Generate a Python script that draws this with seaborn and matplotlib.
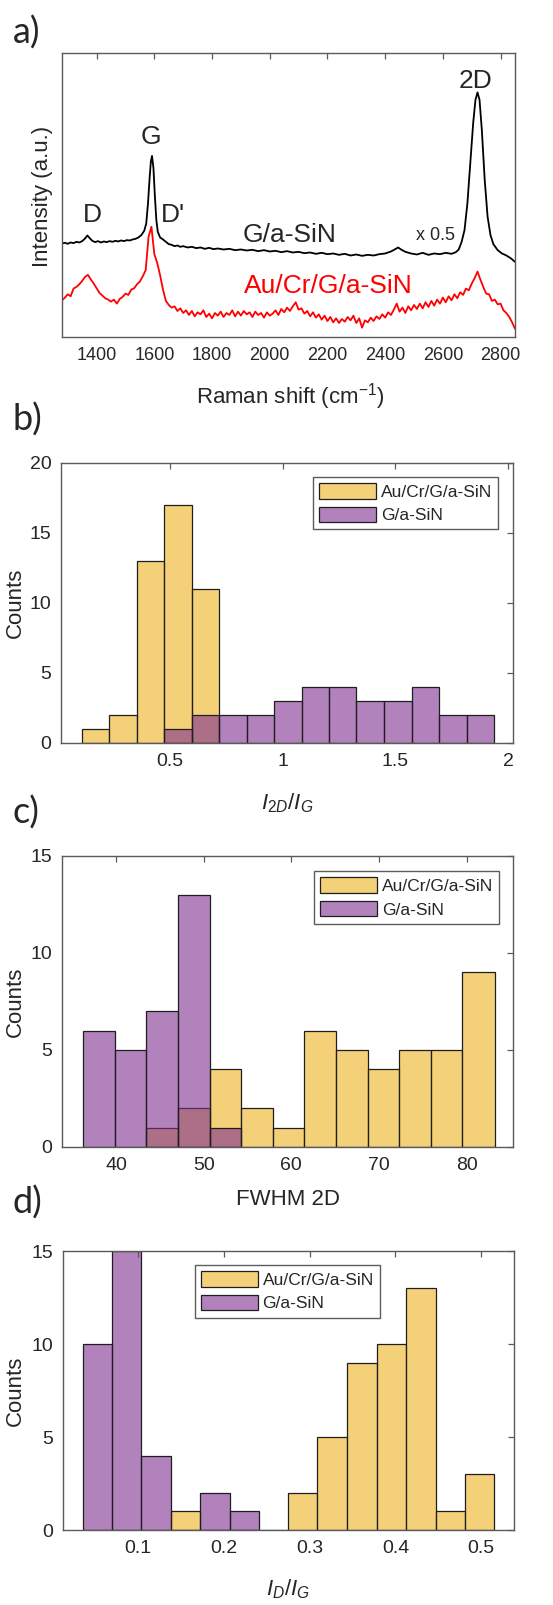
import numpy as np
import matplotlib
matplotlib.use('Agg')
import matplotlib.pyplot as plt
import seaborn as sns

# a) Raman spectra, intensity in arbitrary units
shift_g = [1280, 1290, 1300, 1310, 1320, 1330, 1340, 1350, 1360, 1368, 1376, 1385,
           1395, 1405, 1415, 1425, 1435, 1445, 1455, 1465, 1475, 1485, 1495, 1505,
           1515, 1525, 1535, 1545, 1555, 1565,
           1572, 1578, 1584, 1588, 1592, 1597, 1602, 1607, 1612,
           1620, 1630, 1640, 1650, 1660, 1670, 1680, 1690, 1700,
           1715, 1730, 1745, 1760, 1775, 1790, 1805, 1820,
           1840, 1860, 1880, 1900, 1920, 1940, 1960, 1980, 2000, 2020, 2040, 2060,
           2080, 2100, 2120, 2140, 2160, 2180, 2200, 2220, 2240, 2260, 2280, 2300,
           2320, 2340, 2360, 2380, 2400,
           2420, 2435, 2445, 2455, 2470,
           2490, 2510, 2530, 2550, 2570, 2590, 2610, 2630,
           2645, 2655, 2665, 2675, 2685, 2695, 2705,
           2713, 2720, 2727, 2735, 2745, 2755, 2765, 2775,
           2790, 2805, 2820, 2835, 2850]
int_g = [280, 282, 279, 283, 281, 285, 283, 287, 295, 304, 296, 288,
         284, 287, 283, 286, 284, 287, 285, 288, 286, 289, 287, 290,
         289, 292, 294, 298, 305, 318,
         340, 400, 480, 525, 542, 505, 420, 350, 315,
         298, 292, 285, 278, 276, 272, 274, 270, 272,
         268, 270, 266, 268, 264, 267, 263, 265,
         262, 264, 260, 262, 259, 261, 257, 260, 256, 258, 254, 257,
         253, 255, 251, 253, 249, 252, 248, 250, 246, 249, 244, 247,
         243, 246, 244, 248, 250,
         256, 263, 268, 262, 255,
         250, 247, 252, 246, 250, 248, 252, 249,
         254, 262, 285, 320, 400, 520, 640,
         710, 732, 710, 620, 470, 360, 305, 278,
         260, 250, 244, 236, 225]

shift_au = np.arange(1280, 2851, 10)
int_au = [110, 118, 128, 122, 145, 150, 158, 168, 180, 186,
          172, 160, 146, 132, 124, 116, 112, 106, 112, 100,
          114, 120, 130, 126, 142, 146, 158, 166, 182, 200,
          300, 330, 248, 222, 185, 142, 108, 96, 88, 92,
          78, 86, 72, 80, 66, 78, 62, 74, 68, 80,
          60, 70, 56, 72, 64, 76, 60, 72, 66, 80,
          62, 76, 64, 78, 68, 74, 60, 76, 66, 72,
          58, 74, 64, 70, 80, 66, 84, 74, 88, 78,
          92, 104, 82, 86, 70, 78, 62, 74, 58, 68,
          52, 64, 48, 60, 44, 56, 42, 54, 46, 60,
          50, 64, 42, 56, 28, 50, 44, 58, 48, 62,
          54, 68, 58, 74, 66, 82, 100, 76, 88, 72,
          92, 80, 96, 84, 100, 86, 104, 90, 108, 94,
          112, 100, 118, 104, 122, 110, 128, 116, 134, 126,
          145, 140, 160, 176, 196, 172, 150, 130, 128, 108,
          112, 98, 100, 80, 72, 60, 44, 25]

# b) I2D/IG histograms
b_edges_au = [0.107, 0.229, 0.351, 0.472, 0.595, 0.716]
b_counts_au = [1, 2, 13, 17, 11]
b_edges_g = [0.472, 0.595, 0.716, 0.839, 0.961, 1.083, 1.205, 1.327, 1.450,
             1.572, 1.694, 1.817, 1.939]
b_counts_g = [1, 2, 2, 2, 3, 4, 4, 3, 3, 4, 2, 2]

# c) FWHM 2D histograms
c_edges_au = [43.4, 47.07, 50.7, 54.3, 57.9, 61.5, 65.1, 68.7, 72.3, 75.9, 79.5, 83.2]
c_counts_au = [1, 2, 4, 2, 1, 6, 5, 4, 5, 5, 9]
c_edges_g = [36.2, 39.85, 43.4, 47.07, 50.7, 54.3]
c_counts_g = [6, 5, 7, 13, 1]

# d) ID/IG histograms
d_edges_au = [0.138, 0.172, 0.207, 0.241, 0.275, 0.309, 0.3435, 0.378, 0.412,
              0.447, 0.481, 0.515]
d_counts_au = [1, 0, 0, 0, 2, 5, 9, 10, 13, 1, 3]
d_edges_g = [0.035, 0.069, 0.1035, 0.138, 0.172, 0.207, 0.241]
d_counts_g = [10, 15, 4, 0, 2, 1]

lab_au = 'Au/Cr/G/a-SiN'
lab_g = 'G/a-SiN'
col_au = '#EDB120'
col_g = '#7E2F8E'

sns.set_style('white')
plt.rcParams['font.family'] = ['Liberation Sans', 'DejaVu Sans']
plt.rcParams['mathtext.fontset'] = 'custom'
plt.rcParams['mathtext.rm'] = 'Liberation Sans'
plt.rcParams['mathtext.it'] = 'Liberation Sans:italic'
plt.rcParams['xtick.direction'] = 'in'
plt.rcParams['ytick.direction'] = 'in'
txt = '#262626'
edge = '#5a5a5a'

fig = plt.figure(figsize=(5.53, 16.05), dpi=100)
ax_a = fig.add_axes([0.1121, 0.7900, 0.8192, 0.1770])
ax_b = fig.add_axes([0.1103, 0.5371, 0.8174, 0.1745])
ax_c = fig.add_axes([0.1121, 0.2854, 0.8156, 0.1813])
ax_d = fig.add_axes([0.1134, 0.0467, 0.8156, 0.1738])


def style(ax, size):
    for s in ax.spines.values():
        s.set_color(edge)
        s.set_linewidth(1.0)
    ax.tick_params(axis='both', which='both', top=True, right=True, length=4.5,
                   width=0.9, color=edge, labelcolor=txt, labelsize=size, pad=7)


def hist(ax, edges, counts, color, label):
    mids = [(a + b) / 2 for a, b in zip(edges[:-1], edges[1:])]
    sns.histplot(x=mids, weights=counts, bins=list(edges), color=color, alpha=0.6,
                 edgecolor='#1e1e1e', linewidth=0.9, label=label, ax=ax)


# panel a
sns.lineplot(x=shift_g, y=int_g, color='black', linewidth=1.3, estimator=None,
             sort=False, ax=ax_a)
sns.lineplot(x=shift_au, y=int_au, color='#ff0000', linewidth=1.3, estimator=None,
             sort=False, ax=ax_a)
ax_a.set_xlim(1280, 2850)
ax_a.set_ylim(0, 850)
ax_a.set_xticks(range(1400, 2801, 200))
ax_a.set_yticks([])
style(ax_a, 13)
ax_a.set_xlabel('Raman shift (cm$^{-1}$)', fontsize=16, color=txt)
ax_a.set_ylabel('Intensity (a.u.)', fontsize=16, color=txt)
ax_a.xaxis.set_label_coords(0.503, -0.208)
ax_a.xaxis.label.set_va('center')
ax_a.yaxis.set_label_coords(-0.042, 0.496)
ax_a.yaxis.label.set_va('center')
ax_a.text(1385, 372, 'D', fontsize=19, ha='center', va='center_baseline')
ax_a.text(1587, 605, 'G', fontsize=19, ha='center', va='center_baseline')
ax_a.text(1666, 372, "D'", fontsize=19, ha='center', va='center_baseline')
ax_a.text(2712, 774, '2D', fontsize=19, ha='center', va='center_baseline')
ax_a.text(2068, 312, 'G/a-SiN', fontsize=19, ha='center', va='center_baseline')
ax_a.text(2203, 160, 'Au/Cr/G/a-SiN', fontsize=19, color='#ff0000', ha='center',
          va='center_baseline')
ax_a.text(2573, 311, 'x 0.5', fontsize=13, ha='center', va='center_baseline')

# histogram panels
panels = [
    (ax_b, b_edges_au, b_counts_au, b_edges_g, b_counts_g, (0.015, 2.022), (0, 20),
     [0.5, 1, 1.5, 2], ['0.5', '1', '1.5', '2'], range(0, 21, 5),
     '$I_{2D}/I_G$', -0.214, 'upper right', (0.967, 0.95), -0.102),
    (ax_c, c_edges_au, c_counts_au, c_edges_g, c_counts_g, (33.84, 85.3), (0, 15),
     [40, 50, 60, 70, 80], ['40', '50', '60', '70', '80'], range(0, 16, 5),
     'FWHM 2D', -0.179, 'upper right', (0.969, 0.948), -0.104),
    (ax_d, d_edges_au, d_counts_au, d_edges_g, d_counts_g, (0.0118, 0.538), (0, 15),
     [0.1, 0.2, 0.3, 0.4, 0.5], ['0.1', '0.2', '0.3', '0.4', '0.5'], range(0, 16, 5),
     '$I_D/I_G$', -0.211, 'upper left', (0.293, 0.95), -0.104),
]
for (ax, e_au, n_au, e_g, n_g, xl, yl, xt, xtl, yt, xlab, xly, loc, anchor,
     ylx) in panels:
    hist(ax, e_au, n_au, col_au, lab_au)
    hist(ax, e_g, n_g, col_g, lab_g)
    ax.set_xlim(*xl)
    ax.set_ylim(*yl)
    ax.set_xticks(xt)
    ax.set_xticklabels(xtl)
    ax.set_yticks(list(yt))
    style(ax, 14)
    ax.set_xlabel(xlab, fontsize=16, color=txt)
    ax.set_ylabel('Counts', fontsize=16, color=txt)
    ax.xaxis.set_label_coords(0.5, xly)
    ax.xaxis.label.set_va('center')
    ax.yaxis.set_label_coords(ylx, 0.5)
    ax.yaxis.label.set_va('center')
    leg = ax.legend(loc=loc, bbox_to_anchor=anchor, fontsize=12.5, frameon=True,
                    fancybox=False, handlelength=3.3, handleheight=1.0,
                    borderpad=0.35, labelspacing=0.4, handletextpad=0.25,
                    borderaxespad=0)
    leg.get_frame().set_edgecolor('#333333')
    leg.get_frame().set_linewidth(1.0)
    for t in leg.get_texts():
        t.set_color(txt)

for lab, y in [('a)', 0.9795), ('b)', 0.7383), ('c)', 0.4935), ('d)', 0.2505)]:
    fig.text(0.0235, y, lab, fontsize=26, family=['Lato', 'DejaVu Sans'],
             ha='left', va='center')

fig.savefig('out.png', dpi=100)
